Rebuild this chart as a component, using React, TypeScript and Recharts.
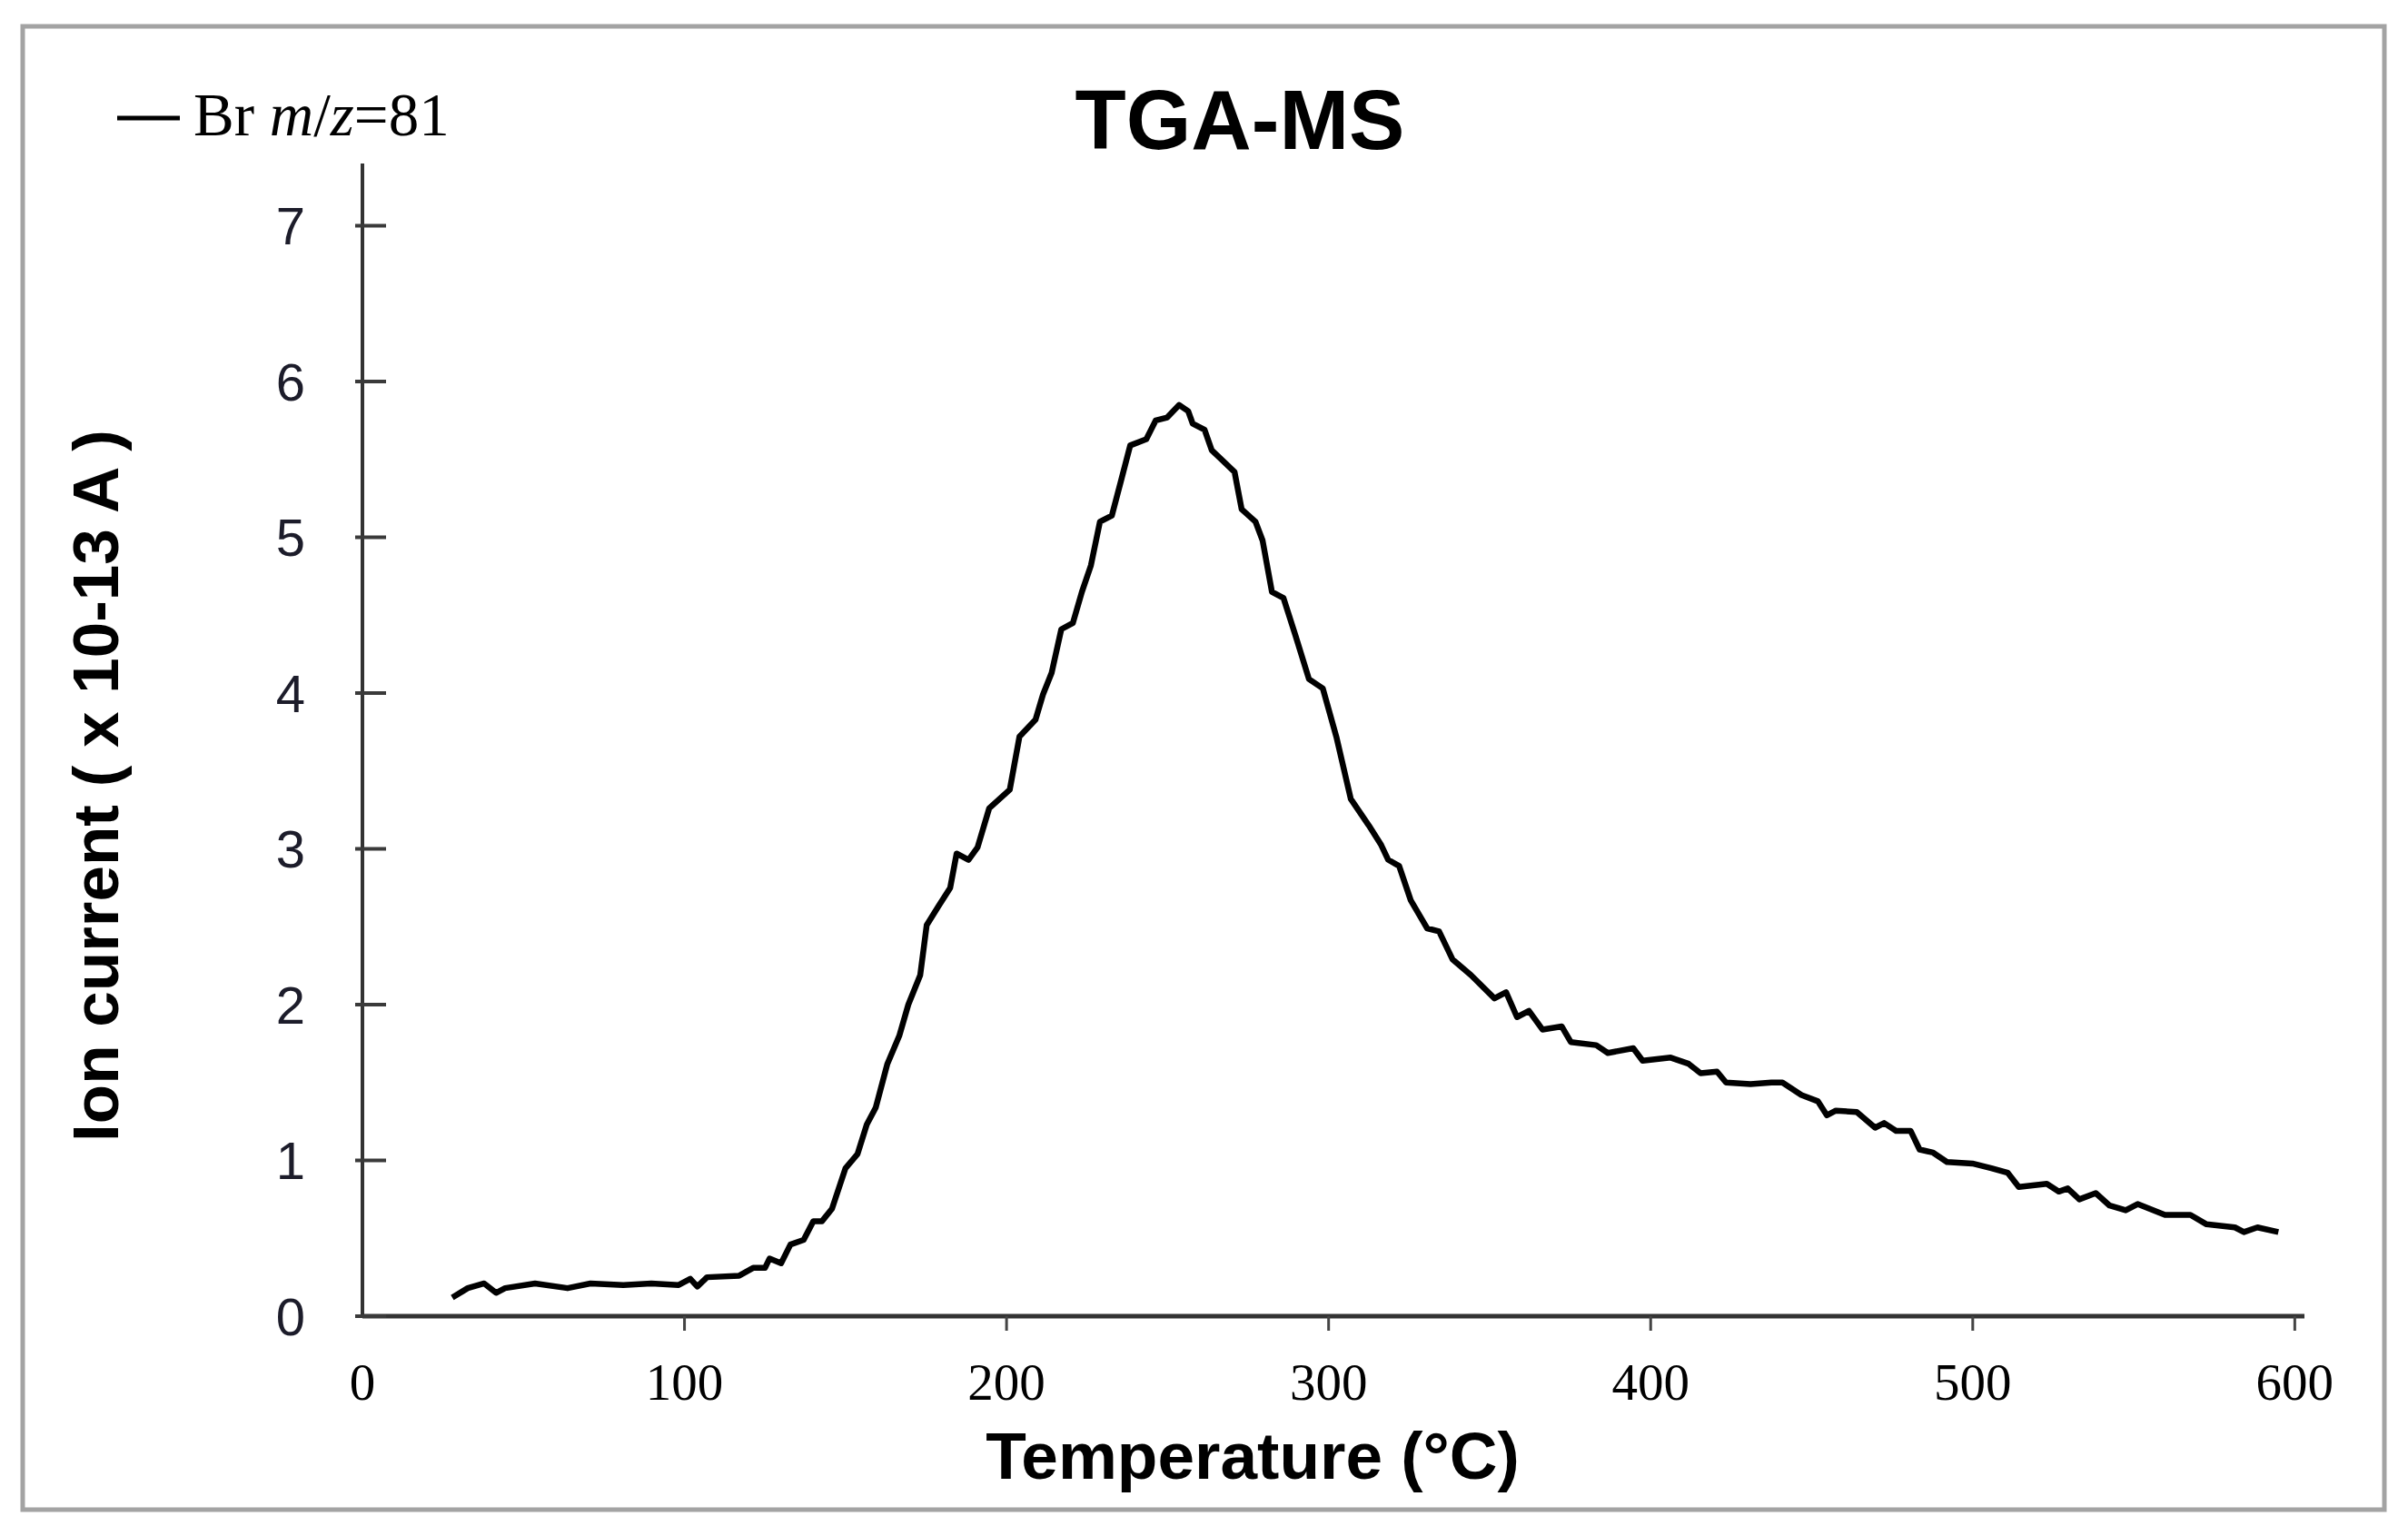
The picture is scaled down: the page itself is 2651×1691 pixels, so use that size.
import { LineChart, Line, XAxis, YAxis, Legend } from 'recharts';

// temperature (°C) and Br m/z=81 ion current (x 10^-13 A)
const temperatures = [
  27.9, 32.7, 37.8, 41.5, 44.3, 53.6, 63.7, 70.8, 81, 89.7, 98.2, 101.8, 104, 107, 117, 121.3,
  125, 126.4, 130, 132.9, 137, 140, 142.7, 145.8, 150, 153.7, 156.6, 159.4, 163, 166.7, 169.5,
  173.2, 175.2, 178.8, 182.5, 184.5, 188.2, 191, 194.6, 201, 204, 209, 211.3, 214, 217, 220.6,
  223.4, 226.2, 229, 232.7, 235.5, 238.4, 243.4, 246.3, 249.9, 253.6, 256.4, 257.8, 261.5, 263.7,
  270.8, 273, 277.3, 279.5, 282.4, 286, 289.7, 293.9, 298.2, 302.4, 306.9, 312.5, 316.2, 318.5,
  321.9, 325.5, 330.6, 334.3, 338.5, 344.2, 351.5, 355.1, 358.5, 362.2, 366.4, 372.4, 375.2,
  383.1, 386.7, 394.6, 397.5, 406.2, 411.8, 415.5, 420.6, 423.4, 431, 437.5, 440.9, 446.8, 451.9,
  454.7, 457.5, 464, 469.7, 472.5, 476.2, 480.7, 483.5, 487.7, 492, 499.9, 505.8, 510.9, 514.3,
  523, 526.7, 529.5, 533.1, 538.2, 542.5, 547.5, 551.2, 559.7, 567.6, 572.6, 581.4, 584.2, 588.4,
  594.9,
];

const ionCurrent = [
  0.12, 0.18, 0.21, 0.15, 0.18, 0.21, 0.18, 0.21, 0.2, 0.21, 0.2, 0.24, 0.19, 0.25, 0.26, 0.31,
  0.31, 0.37, 0.34, 0.46, 0.49, 0.61, 0.61, 0.69, 0.95, 1.04, 1.23, 1.34, 1.62, 1.8, 2.0,
  2.19, 2.51, 2.63, 2.75, 2.97, 2.93, 3.01, 3.26, 3.38, 3.72, 3.83, 3.99, 4.13, 4.41, 4.45,
  4.65, 4.82, 5.1, 5.14, 5.36, 5.59, 5.63, 5.75, 5.77, 5.85, 5.81, 5.73, 5.69, 5.56,
  5.42, 5.18, 5.1, 4.98, 4.65, 4.61, 4.37, 4.09, 4.03, 3.72, 3.32, 3.15, 3.03, 2.93,
  2.89, 2.67, 2.49, 2.47, 2.29, 2.19, 2.04, 2.08, 1.92, 1.96, 1.84, 1.86, 1.76,
  1.74, 1.69, 1.72, 1.64, 1.66, 1.62, 1.56, 1.57, 1.5, 1.49, 1.5, 1.5, 1.42, 1.38,
  1.29, 1.32, 1.31, 1.21, 1.24, 1.19, 1.19, 1.07, 1.05, 0.99, 0.98, 0.95, 0.92, 0.83,
  0.85, 0.8, 0.82, 0.75, 0.79, 0.71, 0.68, 0.72, 0.65, 0.65, 0.59, 0.57, 0.54, 0.57,
  0.54,
];

const xTicks = [0, 100, 200, 300, 400, 500, 600];
const yTicks = [0, 1, 2, 3, 4, 5, 6, 7];

const SANS = '"Liberation Sans", Arial, sans-serif';
const SERIF = '"Liberation Serif", "Times New Roman", serif';

const chartData = temperatures.map((t, i) => ({ temp: t, br81: ionCurrent[i] }));

// y ticks point into the plot; labels sit well left of the axis
const YTick = (props: any) => {
  const { x, y, payload } = props;
  return (
    <g>
      <line x1={x - 8} x2={x + 26} y1={y} y2={y} stroke="#3a3a3a" strokeWidth={4} />
      <text
        x={x - 63}
        y={y}
        textAnchor="end"
        dominantBaseline="central"
        fontFamily={SANS}
        fontSize={58}
        fill="#1c1c2a"
      >
        {payload.value}
      </text>
    </g>
  );
};

const XTick = (props: any) => {
  const { x, y, payload } = props;
  return (
    <g>
      {payload.value !== 0 && (
        <line x1={x} x2={x} y1={y} y2={y + 16} stroke="#444" strokeWidth={3} />
      )}
      <text x={x} y={y + 92} textAnchor="middle" fontFamily={SERIF} fontSize={57} fill="#000">
        {payload.value}
      </text>
    </g>
  );
};

const LegendContent = () => (
  <svg width={600} height={200} style={{ display: 'block' }}>
    <line x1={129} x2={198} y1={130} y2={130} stroke="#000" strokeWidth={5} />
    <text x={213} y={149} fontFamily={SERIF} fontSize={67} fill="#000">
      Br <tspan fontStyle="italic">m</tspan>/<tspan fontStyle="italic">z</tspan>=81
    </text>
  </svg>
);

const App = () => {
  return (
    <div
      style={{
        position: 'absolute',
        left: 0,
        top: 0,
        width: 2651,
        height: 1691,
        background: '#fff',
      }}
    >
      <svg width={2651} height={1691} style={{ position: 'absolute', left: 0, top: 0 }}>
        <rect x={25} y={29} width={2600} height={1633} fill="none" stroke="#a3a3a3" strokeWidth={5} />
        <text
          x={1365}
          y={164}
          textAnchor="middle"
          fontFamily={SANS}
          fontWeight="bold"
          fontSize={92}
          fill="#000"
        >
          TGA-MS
        </text>
      </svg>
      <div style={{ position: 'absolute', left: 0, top: 0 }}>
        <LineChart
          width={2651}
          height={1691}
          data={chartData}
          margin={{ top: 180, right: 114, bottom: 0, left: 0 }}
        >
          <XAxis
            dataKey="temp"
            type="number"
            domain={[0, 603]}
            ticks={xTicks}
            interval={0}
            height={242}
            tickSize={0}
            tickMargin={0}
            tickLine={false}
            tick={<XTick />}
            axisLine={{ stroke: '#333', strokeWidth: 5 }}
            label={() => (
              <text
                x={1379}
                y={1628}
                textAnchor="middle"
                fontFamily={SANS}
                fontWeight="bold"
                fontSize={73}
                fill="#000"
              >
                Temperature (°C)
              </text>
            )}
          />
          <YAxis
            type="number"
            domain={[0, 7.4]}
            ticks={yTicks}
            interval={0}
            width={399}
            tickSize={0}
            tickMargin={0}
            tickLine={false}
            tick={<YTick />}
            axisLine={{ stroke: '#333', strokeWidth: 4 }}
            label={() => (
              <text
                x={105}
                y={865}
                transform="rotate(-90, 105, 865)"
                textAnchor="middle"
                dominantBaseline="central"
                fontFamily={SANS}
                fontWeight="bold"
                fontSize={71}
                fill="#000"
              >
                Ion current ( x 10-13 A )
              </text>
            )}
          />
          <Legend
            layout="vertical"
            align="center"
            verticalAlign="middle"
            content={<LegendContent />}
            wrapperStyle={{ position: 'absolute', left: 0, top: 0, width: 600, height: 200 }}
          />
          <Line
            type="linear"
            dataKey="br81"
            name="Br m/z=81"
            stroke="#000"
            strokeWidth={6.5}
            strokeLinejoin="round"
            dot={false}
            isAnimationActive={false}
          />
        </LineChart>
      </div>
    </div>
  );
};

export default App;
